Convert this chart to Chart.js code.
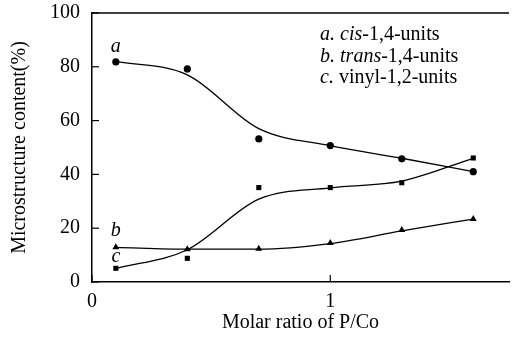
<!DOCTYPE html>
<html lang="en">
<head>
    <meta charset="UTF-8">
    <title>Microstructure content</title>
    <script src="https://cdn.jsdelivr.net/npm/chart.js"></script>
    <style>
        body {
            margin: 0;
            background: #fff;
        }

        .chart-container {
            position: relative;
            width: 513px;
            height: 342px;
        }
    </style>
</head>
<body>
    <div class="chart-container">
        <canvas id="micro-chart"></canvas>
    </div>

    <script>
        // measured points
        const ratios = [0.1, 0.4, 0.7, 1.0, 1.3, 1.6];
        const cisValues = [81.8, 79.2, 53.2, 50.7, 45.8, 41.0];
        const vinylValues = [5.1, 8.8, 35.1, 35.1, 36.9, 46.1];
        const transValues = [12.9, 12.2, 12.4, 14.5, 19.3, 23.4];

        // fitted curves
        const cisCurve = [82.0, 77.0, 57.0, 50.7, 46.0, 41.0];
        const vinylCurve = [5.0, 12.0, 30.8, 35.0, 37.5, 46.0];
        const transCurve = [12.9, 12.2, 12.2, 14.3, 19.0, 23.4];

        const xTicks = [0, 1];
        const yTicks = [0, 20, 40, 60, 80, 100];

        const serif = '"Liberation Serif", "Times New Roman", serif';

        const toPoints = (xs, ys) => xs.map((x, i) => ({ x: x, y: ys[i] }));

        const curveSet = (values) => ({
            type: 'line',
            data: toPoints(ratios, values),
            borderColor: '#000',
            borderWidth: 1.3,
            pointRadius: 0,
            cubicInterpolationMode: 'monotone',
            fill: false
        });

        const markSet = (values, style, radius) => ({
            type: 'scatter',
            data: toPoints(ratios, values),
            backgroundColor: '#000',
            borderColor: '#000',
            borderWidth: 0,
            pointStyle: style,
            pointRadius: radius
        });

        const framePlugin = {
            id: 'frame',
            afterDraw(chart) {
                const { ctx, chartArea, scales } = chart;
                const xs = scales.x;
                const ys = scales.y;
                ctx.save();
                ctx.strokeStyle = '#000';
                ctx.lineWidth = 1.5;
                ctx.beginPath();
                ctx.moveTo(chartArea.left, chartArea.top);
                ctx.lineTo(chartArea.right, chartArea.top);
                ctx.stroke();

                // inward tick marks
                ctx.lineWidth = 1.2;
                yTicks.forEach(v => {
                    const py = ys.getPixelForValue(v);
                    ctx.beginPath();
                    ctx.moveTo(chartArea.left, py);
                    ctx.lineTo(chartArea.left + 7, py);
                    ctx.stroke();
                });
                xTicks.forEach(v => {
                    const px = xs.getPixelForValue(v);
                    ctx.beginPath();
                    ctx.moveTo(px, chartArea.bottom);
                    ctx.lineTo(px, chartArea.bottom - 7);
                    ctx.stroke();
                });

                // curve letters
                ctx.fillStyle = '#000';
                ctx.font = 'italic 20px ' + serif;
                ctx.textAlign = 'center';
                ctx.textBaseline = 'middle';
                ctx.fillText('a', xs.getPixelForValue(0.1), ys.getPixelForValue(87.5));
                ctx.fillText('b', xs.getPixelForValue(0.1), ys.getPixelForValue(19));
                ctx.fillText('c', xs.getPixelForValue(0.1), ys.getPixelForValue(9.3));

                // legend text block
                const lines = [
                    [['a. ', true], ['cis', true], ['-1,4-units', false]],
                    [['b. ', true], ['trans', true], ['-1,4-units', false]],
                    [['c. ', true], ['vinyl-1,2-units', false]]
                ];
                const rows = [91.8, 83.8, 76.0];
                ctx.textAlign = 'left';
                lines.forEach((parts, i) => {
                    let px = xs.getPixelForValue(0.957);
                    const py = ys.getPixelForValue(rows[i]);
                    parts.forEach(([txt, italic]) => {
                        ctx.font = (italic ? 'italic ' : '') + '20px ' + serif;
                        ctx.fillText(txt, px, py);
                        px += ctx.measureText(txt).width;
                    });
                });
                ctx.restore();
            }
        };

        const ctx = document.getElementById('micro-chart').getContext('2d');

        new Chart(ctx, {
            data: {
                datasets: [
                    curveSet(cisCurve),
                    curveSet(vinylCurve),
                    curveSet(transCurve),
                    markSet(cisValues, 'circle', 3.6),
                    markSet(vinylValues, 'rect', 3.6),
                    markSet(transValues, 'triangle', 4)
                ]
            },
            options: {
                responsive: true,
                maintainAspectRatio: false,
                animation: false,
                layout: {
                    padding: { top: 13, right: 1, left: 0, bottom: 0 }
                },
                plugins: {
                    legend: { display: false },
                    tooltip: { enabled: false }
                },
                scales: {
                    x: {
                        type: 'linear',
                        min: 0,
                        max: 1.75,
                        afterBuildTicks: (scale) => {
                            scale.ticks = xTicks.map(v => ({ value: v }));
                        },
                        afterFit: (scale) => {
                            scale.height = 60;
                            scale.paddingLeft = 0;
                            scale.paddingRight = 0;
                        },
                        grid: { display: false, drawTicks: false },
                        border: { display: true, color: '#000', width: 1.5 },
                        ticks: {
                            color: '#000',
                            padding: 8,
                            maxRotation: 0,
                            font: { family: serif, size: 20 }
                        },
                        title: {
                            display: true,
                            text: 'Molar ratio of P/Co',
                            color: '#000',
                            padding: { top: 0, bottom: 7 },
                            font: { family: serif, size: 20 }
                        }
                    },
                    y: {
                        type: 'linear',
                        min: 0,
                        max: 100,
                        afterBuildTicks: (scale) => {
                            scale.ticks = yTicks.map(v => ({ value: v }));
                        },
                        afterFit: (scale) => {
                            scale.width = 92;
                            scale.paddingTop = 0;
                            scale.paddingBottom = 0;
                        },
                        grid: { display: false, drawTicks: false },
                        border: { display: true, color: '#000', width: 1.5 },
                        ticks: {
                            color: '#000',
                            padding: 12,
                            font: { family: serif, size: 20 }
                        },
                        title: {
                            display: true,
                            text: 'Microstructure content(%)',
                            color: '#000',
                            padding: { top: 8, bottom: 0 },
                            font: { family: serif, size: 20 }
                        }
                    }
                }
            },
            plugins: [framePlugin]
        });
    </script>
</body>
</html>
